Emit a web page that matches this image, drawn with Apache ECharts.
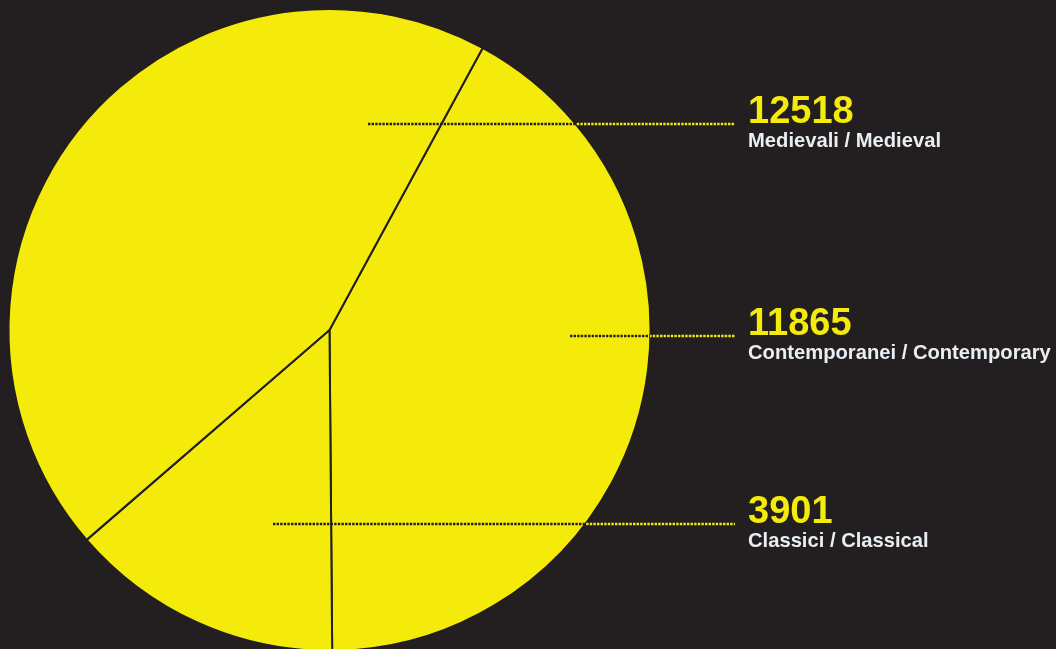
<!DOCTYPE html>
<html>
<head>
<meta charset="utf-8">
<style>
html,body{margin:0;padding:0;background:#231f20;}
#c{width:1056px;height:649px;}
</style>
<script src="https://cdn.jsdelivr.net/npm/echarts@6/dist/echarts.min.js"></script>
</head>
<body>
<div id="c"></div>
<script>
// Data (clockwise order starting from upper-right divider)
var categories = ['Contemporanei / Contemporary', 'Classici / Classical', 'Medievali / Medieval'];
var values = [11865, 3901, 12518];

// Layout (positions of the label leader lines, not data)
var CX = 329.5, CY = 330, R = 321;
var lineY = [336, 524, 124];
var lineStartX = [570, 273, 368];
var lineEndX = 735;
var labelX = 748;

var YELLOW = '#f5eb0a';
var DARK = '#231f20';

function lineColor(i) {
  var dy = lineY[i] - CY;
  var edgeX = CX + Math.sqrt(R * R - dy * dy);
  var f = (edgeX - lineStartX[i]) / (lineEndX - lineStartX[i]);
  f = Math.max(0, Math.min(1, f));
  return new echarts.graphic.LinearGradient(0, 0, 1, 0, [
    {offset: 0, color: DARK},
    {offset: f, color: DARK},
    {offset: f, color: YELLOW},
    {offset: 1, color: YELLOW}
  ]);
}

var sectorData = categories.map(function (name, i) {
  return {name: name, value: values[i]};
});
var labelData = categories.map(function (name, i) {
  return {
    name: name,
    value: values[i],
    labelLine: {lineStyle: {color: lineColor(i)}}
  };
});

var common = {
  type: 'pie',
  center: [CX, CY],
  radius: [0, R],
  startAngle: 61.5,
  clockwise: true,
  silent: true,
  avoidLabelOverlap: false
};

var chart = echarts.init(document.getElementById('c'));
chart.setOption({
  backgroundColor: DARK,
  animation: false,
  series: [
    Object.assign({}, common, {
      z: 1,
      itemStyle: {color: YELLOW, borderColor: DARK, borderWidth: 2},
      label: {show: false},
      labelLine: {show: false},
      data: sectorData
    }),
    Object.assign({}, common, {
      z: 5,
      itemStyle: {color: 'rgba(0,0,0,0)', borderWidth: 0},
      label: {
        show: true,
        position: 'outside',
        formatter: function (p) { return '{v|' + p.value + '}\n{n|' + p.name + '}'; },
        rich: {
          v: {fontFamily: 'Liberation Sans', fontWeight: 'bold', fontSize: 38, lineHeight: 36, color: YELLOW},
          n: {fontFamily: 'Liberation Sans', fontWeight: 'bold', fontSize: 20.2, lineHeight: 20, color: '#e9eef4'}
        }
      },
      labelLine: {
        show: true,
        lineStyle: {width: 2.5, type: [2.4, 1.2]}
      },
      labelLayout: function (params) {
        var i = params.dataIndex;
        var y = lineY[i];
        return {
          x: labelX,
          y: y - 29,
          align: 'left',
          verticalAlign: 'top',
          labelLinePoints: [[lineStartX[i], y], [(lineStartX[i] + lineEndX) / 2, y], [lineEndX, y]]
        };
      },
      data: labelData
    })
  ]
});
</script>
</body>
</html>
